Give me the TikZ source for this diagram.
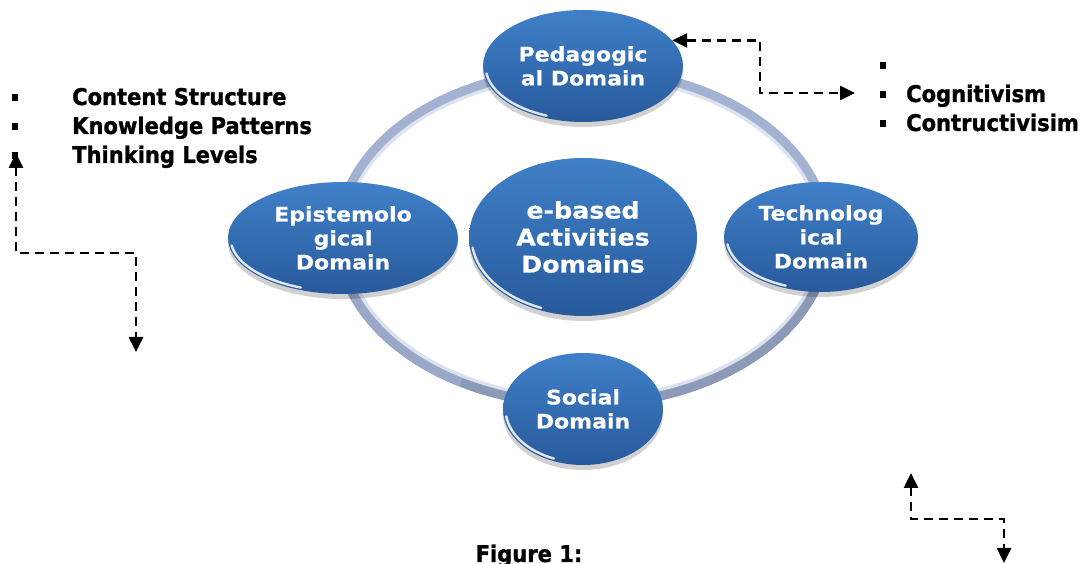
\documentclass[tikz,border=0pt]{standalone}
\usepackage{fontspec}
\setmainfont{DejaVu Sans}
\newfontfamily\wideff[FakeStretch=1.1,BoldFeatures={FakeBold=0.5}]{DejaVu Sans}
\newfontfamily\narrowff[FakeStretch=0.915,BoldFeatures={FakeBold=1.2}]{DejaVu Sans}
\usetikzlibrary{arrows.meta,shapes.geometric}
\definecolor{domtop}{RGB}{64,128,200}
\definecolor{dombot}{RGB}{40,90,156}
\definecolor{ringc}{RGB}{162,178,208}
\definecolor{ringlo}{RGB}{140,154,184}
\definecolor{ringhi}{RGB}{226,233,245}
\tikzset{
  x=1pt,y=1pt,
  dombox/.style={ellipse, top color=domtop, bottom color=dombot, text=white,
    align=center, inner sep=0pt},
  domfont/.style={font=\wideff\bfseries\fontsize{20}{24}\selectfont},
  lbl/.style={font=\narrowff\bfseries\fontsize{23}{25}\selectfont, inner sep=0pt, anchor=base west},
  bulletbox/.style={rectangle, fill=black, minimum width=6.5pt, minimum height=7pt, inner sep=0pt},
  dasharrow/.style={line width=2.6pt, dash pattern=on 9pt off 6pt,
    {Triangle[length=15pt,width=14pt]}-{Triangle[length=15pt,width=14pt]}}
}
\newcommand\domnode[7]{%
  \fill[black,opacity=.18] (#2,#3-5) ellipse[x radius=#4, y radius=#5];
  \node[dombox, #6, minimum width={2*#4}, minimum height={2*#5}] (#1) at (#2,#3) {#7};
  \draw[white,opacity=.85,line width=2.4pt,line cap=round] (#2,#3) ++({(#4-2.5)*cos(188)},{(#5-2.5)*sin(188)})
     arc[start angle=188,end angle=248,x radius={#4-2.5},y radius={#5-2.5}];
}
\begin{document}
\begin{tikzpicture}
\useasboundingbox (0,0) rectangle (1086,564);
\clip (0,0) rectangle (1086,564);
\fill[white] (0,0) rectangle (1086,564);

% ring
\draw[ringc, line width=12pt] (583,327) ellipse[x radius=243, y radius=166];
\draw[ringlo, line width=12pt] (583,327) ++(-243,0) arc[start angle=180,end angle=360,x radius=243,y radius=166];
\draw[ringc, line width=12pt, opacity=.6] (583,327) ++(-243,0) arc[start angle=180,end angle=240,x radius=243,y radius=166];
\draw[ringhi, line width=3.5pt, opacity=.9] (583,327) ellipse[x radius=238, y radius=161];

% domains
\domnode{ped}{583}{498}{100}{56}{domfont}{Pedagogic\\al Domain}
\domnode{epi}{343}{326}{115}{56}{domfont}{Epistemolo\\gical\\Domain}
\domnode{ctr}{583}{327}{114}{79}{font=\wideff\bfseries\fontsize{23}{27}\selectfont}{e-based\\Activities\\Domains}
\domnode{tec}{821}{327}{97}{55}{domfont}{Technolog\\ical\\Domain}
\domnode{soc}{583}{155}{80}{56}{domfont}{Social\\Domain}

% left list
\node[bulletbox] (lb1) at (15,466.5) {};
\node[bulletbox] (lb2) at (15,437.5) {};
\node[bulletbox] (lb3) at (15,408.5) {};
\node[lbl] (l1) at (72,459) {Content Structure};
\node[lbl] (l2) at (72,430) {Knowledge Patterns};
\node[lbl] (l3) at (72,401) {Thinking Levels};

% right list
\node[bulletbox] (rb1) at (883,498) {};
\node[bulletbox] (rb2) at (883,469) {};
\node[bulletbox] (rb3) at (883,440) {};
\node[lbl] (r2) at (906,462) {Cognitivism};
\node[lbl] (r3) at (906,433) {Contructivisim};

% figure caption
\node[font=\narrowff\bfseries\fontsize{23}{25}\selectfont, inner sep=0pt, anchor=base] (cap) at (529,2) {Figure 1:};

% arrows
\coordinate (c1) at (760,471);
\coordinate (t1) at (855,471);
\draw[dasharrow] (ped.16) -| (c1) -- (t1);

\coordinate (t2a) at (16,411);
\coordinate (c2a) at (16,311);
\coordinate (c2b) at (136,311);
\coordinate (t2b) at (136,212);
\draw[dasharrow] (t2a) -- (c2a) -- (c2b) -- (t2b);

\coordinate (t3a) at (911,91);
\coordinate (c3a) at (911,45);
\coordinate (c3b) at (1004,45);
\coordinate (t3b) at (1004,1);
\draw[dasharrow] (t3a) -- (c3a) -- (c3b) -- (t3b);
\end{tikzpicture}
\end{document}
